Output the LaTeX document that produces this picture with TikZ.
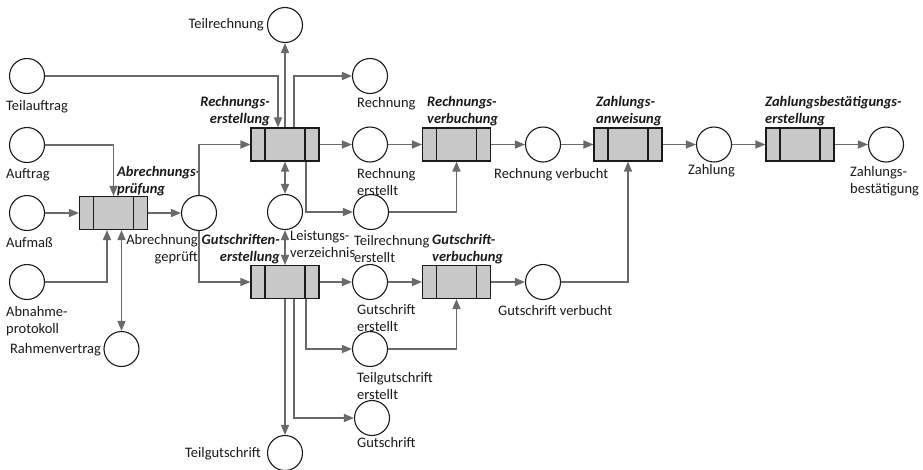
\documentclass[tikz,border=0pt]{standalone}
\usepackage{fontspec}
\setmainfont{Carlito}
\usetikzlibrary{arrows.meta,calc}
\definecolor{flow}{HTML}{6A6A6A}
\definecolor{boxfill}{HTML}{C8C8C8}
\definecolor{ink}{HTML}{1A1A1A}
\begin{document}
\begin{tikzpicture}[x=1pt,y=-1pt,
  font=\fontsize{14.5}{17}\selectfont,
  place/.style={circle,draw=ink,line width=1.1pt,fill=white,minimum size=35pt,inner sep=0pt},
  trans/.style={rectangle,draw=ink,line width=1.1pt,fill=boxfill,minimum width=68pt,minimum height=33pt,inner sep=0pt,
    path picture={\draw[ink,line width=1.1pt]
      ([xshift=14pt]path picture bounding box.north west) -- ([xshift=14pt]path picture bounding box.south west)
      ([xshift=-14pt]path picture bounding box.north east) -- ([xshift=-14pt]path picture bounding box.south east);}},
  lbl/.style={inner sep=0pt,text=ink},
  act/.style={lbl,font=\fontsize{14.5}{17}\selectfont\bfseries\itshape},
  flowarrow/.style={draw=flow,line width=1.5pt,-{Triangle[length=10pt,width=8pt]}},
  biarrow/.style={draw=flow,line width=1.5pt,{Triangle[length=10pt,width=8pt]}-{Triangle[length=10pt,width=8pt]}}
]
\fill[white] (0,0) rectangle (923,469);
\useasboundingbox (0,0) rectangle (923,469);

% transitions
\node[trans] (tAP)  at (113.5,213) {};
\node[trans] (tRE)  at (285,144.5) {};
\node[trans] (tGE)  at (285,282) {};
\node[trans] (tRV)  at (456.5,144.5) {};
\node[trans] (tGV)  at (456.5,282) {};
\node[trans] (tZA)  at (628,144.5) {};
\node[trans] (tZBE) at (800,144.5) {};

% places
\node[place] (pTA)  at (27,76) {};
\node[place] (pAU)  at (27,145) {};
\node[place] (pAM)  at (27,213) {};
\node[place] (pAN)  at (27,282) {};
\node[place] (pRV)  at (121.5,349) {};
\node[place] (pAG)  at (199,213) {};
\node[place] (pTR)  at (285,25) {};
\node[place] (pR)   at (370,76) {};
\node[place] (pRE)  at (370,144.5) {};
\node[place] (pTRE) at (371,212) {};
\node[place] (pLV)  at (285,212) {};
\node[place] (pGE)  at (370,282) {};
\node[place] (pTGE) at (370,349) {};
\node[place] (pG)   at (372,418) {};
\node[place] (pTG)  at (285,453) {};
\node[place] (pRVB) at (543,144.5) {};
\node[place] (pGVB) at (543,282) {};
\node[place] (pZ)   at (714,144.5) {};
\node[place] (pZB)  at (886,144.5) {};

% place labels
\node[lbl,anchor=east] (lTR) at (264,25) {Teilrechnung};
\node[lbl,anchor=west] (lTA) at (6,107) {Teilauftrag};
\node[lbl,anchor=west] (lAU) at (6,175) {Auftrag};
\node[lbl,anchor=west] (lAM) at (6,243) {Aufmaß};
\node[lbl,anchor=west,align=left] (lAN) at (6,321) {Abnahme-\\protokoll};
\node[lbl,anchor=east] (lRV) at (101,350) {Rahmenvertrag};
\node[lbl,anchor=east,align=right] (lAG) at (198,249) {Abrechnung\\geprüft};
\node[lbl,anchor=west] (lR) at (357,104) {Rechnung};
\node[lbl,anchor=west,align=left] (lRE) at (357,182) {Rechnung\\erstellt};
\node[lbl,anchor=west,align=left] (lLV) at (290,244) {Leistungs-\\verzeichnis};
\node[lbl,anchor=west,align=left] (lTRE) at (354,249) {Teilrechnung\\erstellt};
\node[lbl,anchor=west,align=left] (lGE) at (357,318) {Gutschrift\\erstellt};
\node[lbl,anchor=west,align=left] (lTGE) at (357,386) {Teilgutschrift\\erstellt};
\node[lbl,anchor=west] (lG) at (357,443) {Gutschrift};
\node[lbl,anchor=east] (lTG) at (261,454) {Teilgutschrift};
\node[lbl,anchor=west] (lGVB) at (498,311) {Gutschrift verbucht};
\node[lbl,anchor=west] (lRVB) at (494,175) {Rechnung verbucht};
\node[lbl,anchor=west] (lZ) at (688,171) {Zahlung};
\node[lbl,anchor=west,align=left] (lZB) at (850,181) {Zahlungs-\\bestätigung};

% transition labels
\node[act,anchor=west,align=left] (aAP) at (117,181) {Abrechnungs-\\prüfung};
\node[act,anchor=east,align=right] (aRE) at (270,111) {Rechnungs-\\erstellung};
\node[act,anchor=east,align=right] (aGE) at (280,249) {Gutschriften-\\erstellung};
\node[act,anchor=west,align=left] (aRV) at (427,111) {Rechnungs-\\verbuchung};
\node[act,anchor=west,align=left] (aGV) at (432,249) {Gutschrift-\\verbuchung};
\node[act,anchor=west,align=left] (aZA) at (596,111) {Zahlungs-\\anweisung};
\node[act,anchor=west,align=left] (aZBE) at (765,111) {Zahlungsbestätigungs-\\erstellung};

% arcs around Abrechnungsprüfung
\draw[flowarrow] (pAU.east) -| (tAP.north);
\draw[flowarrow] (pAM.east) -- (tAP.west);
\draw[flowarrow] (pAN.east) -| ([xshift=-6.5pt]tAP.south);
\draw[biarrow] ([xshift=8pt]tAP.south) -- (pRV.north);
\draw[flowarrow] (tAP.east) -- (pAG.west);

% arcs around Rechnungserstellung
\draw[flowarrow] (pAG.north) |- (tRE.west);
\draw[flowarrow] (pTA.east) -| ([xshift=-7pt]tRE.north);
\draw[flowarrow] (tRE.north) -- (pTR.south);
\draw[flowarrow] ([xshift=9pt]tRE.north) |- (pR.west);
\draw[flowarrow] (tRE.east) -- (pRE.west);
\draw[biarrow] (tRE.south) -- (pLV.north);
\draw[flowarrow] ([xshift=21pt]tRE.south) |- (pTRE.west);

% arcs around Gutschriftenerstellung
\draw[flowarrow] (pAG.south) |- (tGE.west);
\draw[biarrow] (pLV.south) -- (tGE.north);
\draw[flowarrow] (tGE.east) -- (pGE.west);
\draw[flowarrow] (tGE.south) -- (pTG.north);
\draw[flowarrow] ([xshift=9pt]tGE.south) |- (pG.west);
\draw[flowarrow] ([xshift=21pt]tGE.south) |- (pTGE.west);

% bookings
\draw[flowarrow] (pRE.east) -- (tRV.west);
\draw[flowarrow] (pTRE.east) -| (tRV.south);
\draw[flowarrow] (tRV.east) -- (pRVB.west);
\draw[flowarrow] (pGE.east) -- (tGV.west);
\draw[flowarrow] (pTGE.east) -| (tGV.south);
\draw[flowarrow] (tGV.east) -- (pGVB.west);

% payment
\draw[flowarrow] (pRVB.east) -- (tZA.west);
\draw[flowarrow] (pGVB.east) -| (tZA.south);
\draw[flowarrow] (tZA.east) -- (pZ.west);
\draw[flowarrow] (pZ.east) -- (tZBE.west);
\draw[flowarrow] (tZBE.east) -- (pZB.west);
\end{tikzpicture}
\end{document}
